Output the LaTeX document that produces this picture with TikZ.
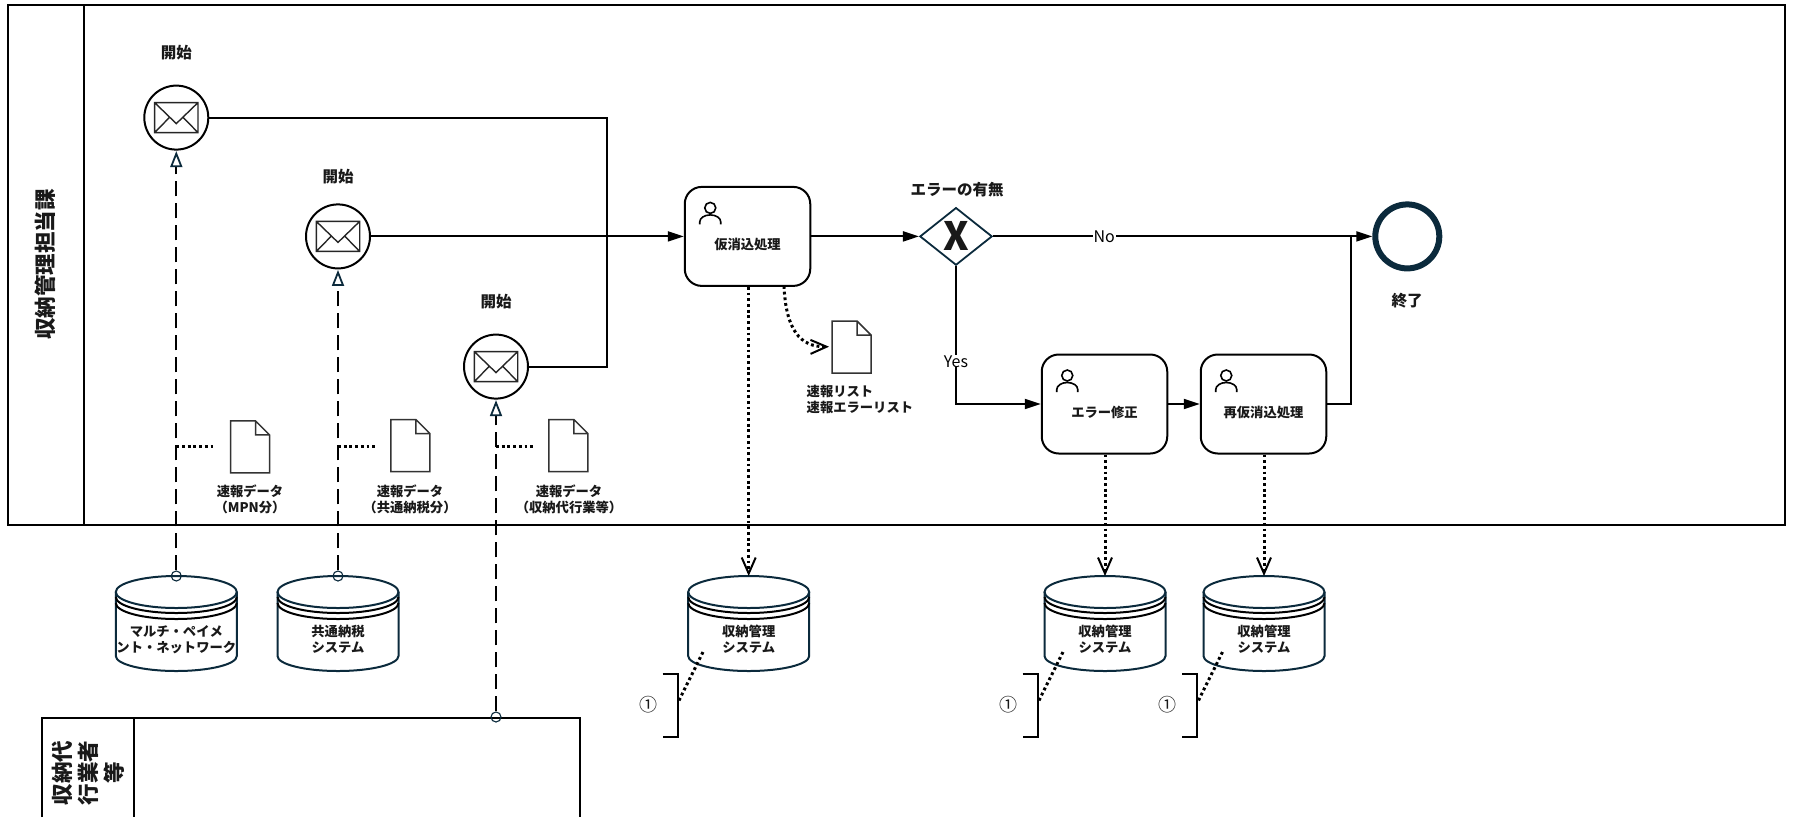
\documentclass[tikz,border=0pt]{standalone}
\usepackage{fontspec}
\setmainfont{Noto Sans CJK JP}
\usetikzlibrary{arrows.meta,positioning,shapes.geometric,calc}
\definecolor{bpmnink}{HTML}{0B2A3C}
\begin{document}
\begin{tikzpicture}[x=1pt,y=-1pt,
  every node/.style={align=center,inner sep=0pt,text=black!90},
  smalltext/.style={font=\fontsize{13.3}{16}\bfseries\selectfont},
  captiontext/.style={font=\fontsize{15.5}{18}\bfseries\selectfont},
  marktext/.style={font=\fontsize{18}{18}\selectfont},
  pooltext/.style={font=\fontsize{21.5}{26}\bfseries\selectfont,rotate=90},
  poolline/.style={draw,line width=2pt},
  seqflow/.style={draw,line width=2pt,-{Triangle[length=16pt,width=10pt]}},
  plainflow/.style={draw,line width=2pt},
  msgflow/.style={draw,line width=2pt,dash pattern=on 15pt off 7pt,shorten >=0.5pt,
    -{Triangle[open,length=16pt,width=12pt,line width=1.8pt,color=bpmnink,fill=white]}},
  assoc/.style={draw,line width=3pt,dash pattern=on 2.8pt off 2.9pt},
  assocarrow/.style={assoc,-{Straight Barb[length=16pt,width=14pt,line width=2pt]}},
  startevent/.style={circle,draw,line width=2pt,minimum size=64pt},
  endevent/.style={circle,draw=bpmnink,line width=6pt,minimum size=64pt},
  taskbox/.style={draw,line width=2pt,rounded corners=17pt,minimum width=125.5pt,minimum height=99pt},
  gateway/.style={diamond,draw=bpmnink,line width=1.8pt,minimum width=72.3pt,minimum height=57.6pt,
    font=\fontsize{39}{39}\bfseries\selectfont},
  storebox/.style={minimum width=121pt,minimum height=95pt},
  msgdot/.style={circle,draw=bpmnink,line width=1.1pt,minimum size=10pt},
  edgetext/.style={fill=white,text=black,font=\fontsize{16}{18}\selectfont,inner xsep=1pt},
  docpic/.pic={
    \draw[line width=1.5pt,black!80] (-19.5,-26) -- (5.5,-26) -- (19.5,-12) -- (19.5,26) -- (-19.5,26) -- cycle
      (5.5,-26) -- (5.5,-12) -- (19.5,-12);
  },
  usericon/.pic={
    \draw[line width=1.6pt] (0,0) circle (5.5);
    \draw[line width=1.6pt] (-10.5,16.5) -- (-10.5,14) arc[start angle=180,end angle=360,x radius=10.5,y radius=7] -- (10.5,16.5);
  }]
  \useasboundingbox (0,0) rectangle (1795,817);

  \draw[poolline] (8,4.5) rectangle (1785,524.5);
  \draw[poolline] (83.5,4.5) -- (83.5,524.5);
  \node[pooltext] (poolone) at (45,264.5) {収納管理担当課};
  \draw[poolline] (42,817) -- (42,718) -- (580,718) -- (580,817);
  \draw[poolline] (134,718) -- (134,817);
  \node[pooltext] (pooltwo) at (88,773) {収納代\\行業者\\等};

  \foreach \name/\x/\y/\ly in {startone/176.3/117.6/52.5,starttwo/338/236.4/176.5,startthree/496/366.6/301.5}{
    \node[startevent] (\name) at (\x,\y) {};
    \node[captiontext] (text\name) at (\x,\ly) {開始};
    \draw[line width=1.4pt,black!85,shift={(\x,\y)}] (-21.7,-15) rectangle (21.7,15)
      (-21.7,-15) -- (0,6) -- (21.7,-15) (-21.7,15) -- (-7,0) (21.7,15) -- (7,0);
  }

  \foreach \name/\x/\y/\txt in {kari/747.5/236.4/仮消込処理,fix/1104.5/404/エラー修正,rekari/1263.5/404/再仮消込処理}{
    \node[taskbox,label={[smalltext,yshift=-8.5pt]center:\txt}] (\name) at (\x,\y) {};
    \pic[shift={(\name.north west)},shift={(26.5,22)}] {usericon};
  }

  \node[gateway] (gate) at (956,236.4) {X};
  \node[captiontext] (gatetext) at (957,189.5) {エラーの有無};
  \node[endevent] (finish) at (1407.3,236.4) {};
  \node[captiontext] (finishtext) at (1407,300.5) {終了};

  \foreach \name/\x/\txt in {storempn/176.3/マルチ・ペイメ\\ント・ネットワーク,storekyo/338/共通納税\\システム,
    storeone/748.7/収納管理\\システム,storetwo/1105/収納管理\\システム,storethree/1264/収納管理\\システム}{
    \draw[line width=2pt,bpmnink,shift={(\x,0)}] (-60.5,592) -- (-60.5,656)
      arc[start angle=180,end angle=0,x radius=60.5,y radius=15] -- (60.5,592);
    \draw[line width=2pt,black,shift={(\x,0)}] (-60.5,597) arc[start angle=180,end angle=0,x radius=60.5,y radius=16]
      (-60.5,603) arc[start angle=180,end angle=0,x radius=60.5,y radius=16];
    \draw[line width=2pt,bpmnink,shift={(\x,0)}] (0,592) ellipse[x radius=60.5,y radius=16];
    \node[storebox,smalltext,yshift=-16pt] (\name) at (\x,623.5) {\txt};
  }

  \coordinate (merge) at (607,236.4);
  \coordinate (joinend) at (1351,236.4);
  \draw[plainflow] (startone) -| (merge);
  \draw[plainflow] (startthree) -| (merge);
  \draw[seqflow] (starttwo) -- (kari);
  \draw[seqflow] (kari) -- (gate);
  \draw[seqflow] (gate) -- node[edgetext,pos=0.293] (notext) {No} (finish);
  \draw[seqflow] (gate) |- node[edgetext,pos=0.345] (yestext) {Yes} (fix);
  \draw[seqflow] (fix) -- (rekari);
  \draw[plainflow] (rekari) -| (joinend);

  \node[msgdot] (dotmpn) at (176.3,576) {};
  \node[msgdot] (dotkyo) at (338,576) {};
  \node[msgdot] (dotagent) at (496,717) {};
  \draw[msgflow] (dotmpn) -- (startone);
  \draw[msgflow] (dotkyo) -- (starttwo);
  \draw[msgflow] (dotagent) -- (startthree);

  \foreach \name/\x/\y/\lx/\tx/\txt in {docmpn/250/446.9/216/250/速報データ\\（MPN分）,
    dockyo/410.4/445.5/376.6/410/速報データ\\（共通納税分）,docagent/568.4/445.5/535.8/569/速報データ\\（収納代行業等）}{
    \pic at (\x,\y) {docpic};
    \coordinate (end\name) at (\lx,446);
    \node[smalltext] (text\name) at (\tx,499) {\txt};
  }
  \draw[assoc] (dotmpn |- enddocmpn) -- (enddocmpn);
  \draw[assoc] (dotkyo |- enddockyo) -- (enddockyo);
  \draw[assoc] (dotagent |- enddocagent) -- (enddocagent);

  \pic at (851.5,347) {docpic};
  \coordinate (listend) at (829,346.7);
  \node[smalltext,align=left,anchor=west] (listtext) at (806.5,399.5) {速報リスト\\速報エラーリスト};
  \draw[assocarrow] (784,286) .. controls (786,330) and (800,347) .. (listend);

  \coordinate (intoone) at (748.7,576);
  \coordinate (intotwo) at (1105,576);
  \coordinate (intothree) at (1264,576);
  \draw[assocarrow] (kari.south -| intoone) -- (intoone);
  \draw[assocarrow] (fix.south -| intotwo) -- (intotwo);
  \draw[assocarrow] (rekari.south -| intothree) -- (intothree);

  \foreach \name/\dx in {one/0,two/360,three/519.5}{
    \draw[line width=2pt,shift={(\dx,0)}] (662.7,673.7) -- (677.7,673.7) -- (677.7,737) -- (662.7,737);
    \coordinate[shift={(\dx,0)}] (note\name) at (703,652);
    \coordinate[shift={(\dx,0)}] (brace\name) at (677.7,703);
    \node[marktext,shift={(\dx,0)}] (mark\name) at (648,705) {①};
    \draw[assoc] (note\name) -- (brace\name);
  }
\end{tikzpicture}
\end{document}
